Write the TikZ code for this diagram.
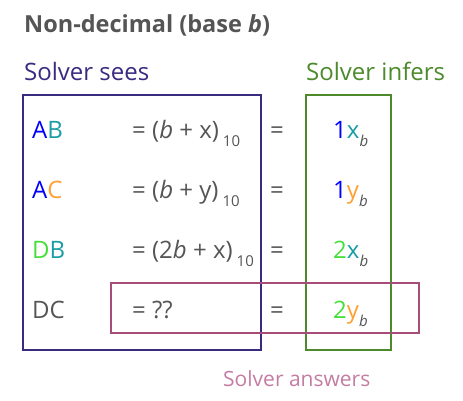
\documentclass[tikz,border=0pt]{standalone}
\usepackage{fontspec}
\setmainfont{Open Sans}
\definecolor{txt}{HTML}{555555}
\definecolor{cA}{HTML}{0000FF}
\definecolor{cB}{HTML}{1A9CA4}
\definecolor{cC}{HTML}{FFA033}
\definecolor{cD}{HTML}{44E03A}
\definecolor{sees}{HTML}{3A2A80}
\definecolor{infers}{HTML}{4C8A2C}
\definecolor{answ}{HTML}{A64D79}
\definecolor{answt}{HTML}{C47CA2}
\newcommand{\subten}{\raisebox{-8pt}{\fontsize{15}{16}\selectfont 10}}
\newcommand{\subb}{\raisebox{-8pt}{\fontsize{15}{16}\selectfont\itshape b}}
\begin{document}
\begin{tikzpicture}[x=1pt,y=-1pt,
  txtnode/.style={anchor=base west,inner sep=0pt,text=txt,font=\fontsize{24}{28}\selectfont},
  boxline/.style={line width=2pt}]
\useasboundingbox (0,0) rectangle (463,400);
\node[txtnode,font=\fontsize{23.5}{27}\selectfont\bfseries] (title) at (24,32) {Non-decimal (base \textit{b})};
\node[txtnode,text=sees] (sees) at (24,80) {Solver sees};
\node[txtnode,text=infers] (infers) at (306,80) {Solver infers};
\node[txtnode,text=answt,font=\fontsize{21}{24}\selectfont] (answers) at (223,386) {Solver answers};
% rows
\node[txtnode] (l1) at (32,138) {\textcolor{cA}{A}\textcolor{cB}{B}};
\node[txtnode] (l2) at (32,198) {\textcolor{cA}{A}\textcolor{cC}{C}};
\node[txtnode] (l3) at (32,258) {\textcolor{cD}{D}\textcolor{cB}{B}};
\node[txtnode] (l4) at (32,318) {DC};
\node[txtnode] (e1) at (132,138) {= (\textit{b} + x)\,\subten};
\node[txtnode] (e2) at (132,198) {= (\textit{b} + y)\,\subten};
\node[txtnode] (e3) at (132,258) {= (2\textit{b} + x)\,\subten};
\node[txtnode] (e4) at (132,318) {= ??};
\node[txtnode,anchor=base] (m1) at (277,138) {=};
\node[txtnode,anchor=base] (m2) at (277,198) {=};
\node[txtnode,anchor=base] (m3) at (277,258) {=};
\node[txtnode,anchor=base] (m4) at (277,318) {=};
\node[txtnode] (r1) at (333,138) {\textcolor{cA}{1}\textcolor{cB}{x}\subb};
\node[txtnode] (r2) at (333,198) {\textcolor{cA}{1}\textcolor{cC}{y}\subb};
\node[txtnode] (r3) at (333,258) {\textcolor{cD}{2}\textcolor{cB}{x}\subb};
\node[txtnode] (r4) at (333,318) {\textcolor{cD}{2}\textcolor{cC}{y}\subb};
% boxes
\node[draw=sees,boxline,inner sep=0pt,minimum width=238pt,minimum height=255pt,anchor=north west] (seesbox) at (22,94) {};
\node[draw=infers,boxline,inner sep=0pt,minimum width=85pt,minimum height=255pt,anchor=north west] (infbox) at (305,94) {};
\node[draw=answ,boxline,inner sep=0pt,minimum width=308pt,minimum height=50pt,anchor=north west] (ansbox) at (110,282) {};
\end{tikzpicture}
\end{document}
